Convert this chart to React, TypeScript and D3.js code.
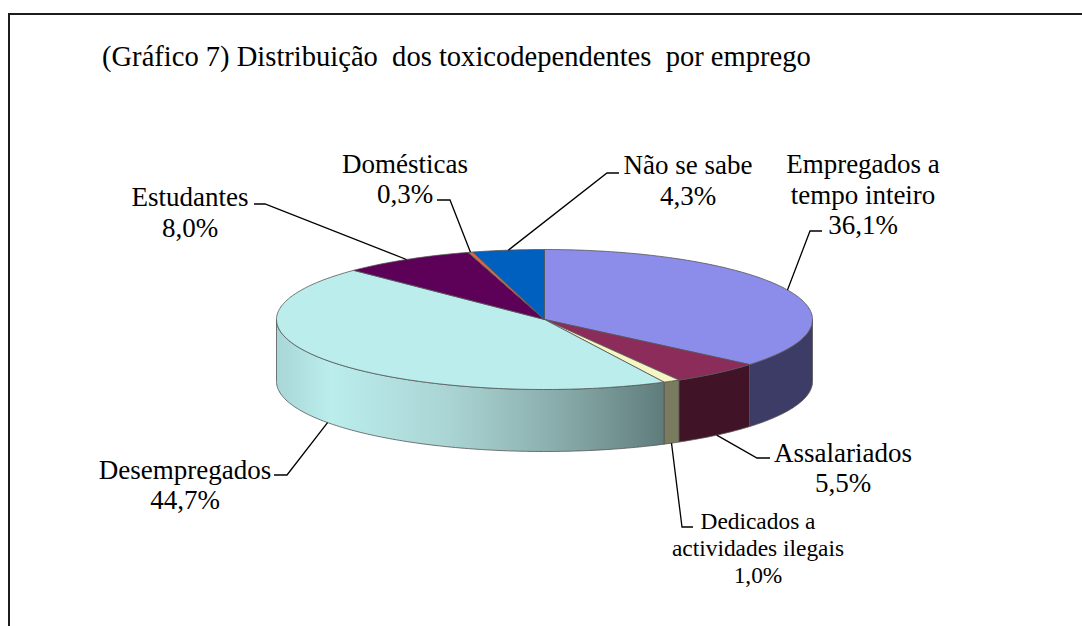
import React from "react";
import * as d3 from "d3";

const categories = ["Empregados a tempo inteiro", "Assalariados", "Dedicados a actividades ilegais", "Desempregados", "Estudantes", "Domésticas", "Não se sabe"];
const values = [36.1, 5.5, 1.0, 44.7, 8.0, 0.3, 4.3];
const topColors = ["#8c8ceb", "#8b2c5a", "#f6f6c4", "#bbeded", "#5c0058", "#d2694a", "#0060bf"];
const sideColors = ["#3c3c66", "#401426", "#7b7b5f", "url(#sideGrad)", "#2e002c", "#6a3525", "#003060"];
const labelLines = [
  ["Empregados a", "tempo inteiro", "36,1%"],
  ["Assalariados", "5,5%"],
  ["Dedicados a", "actividades ilegais", "1,0%"],
  ["Desempregados", "44,7%"],
  ["Estudantes", "8,0%"],
  ["Domésticas", "0,3%"],
  ["Não se sabe", "4,3%"],
];
const labelX = [863, 843, 758, 185, 190, 405, 688];
const labelY = [173, 462, 529, 479, 206, 173, 174];
const labelStep = [30.5, 30, 27, 30, 31, 30, 31];
const labelSize = [27, 27, 23.4, 27, 27, 27, 27];
const elbowA: [number, number][] = [[822, 231], [770, 458], [693, 527], [274, 475], [254, 204], [437, 200], [619, 173]];
const elbowB: [number, number][] = [[810, 231], [757, 458], [682, 527], [287, 475], [265, 204], [450, 200], [607, 173]];
const titleText = "(Gráfico 7) Distribuição  dos toxicodependentes  por emprego";

const W = 1082, H = 626;
const cx = 544.5, cy = 319.5, rx = 268, ry = 70, depth = 62;
const xS = d3.scaleLinear().domain([-1, 1]).range([cx - rx, cx + rx]);
const yS = d3.scaleLinear().domain([-1, 1]).range([cy - ry, cy + ry]);
const pt = (t: number): [number, number] => [xS(Math.sin(t)), yS(-Math.cos(t))];
const line = d3.line();
const sample = (a: number, b: number) => {
  const n = Math.max(2, Math.ceil(Math.abs(b - a) * 60));
  return d3.range(n + 1).map((i) => pt(a + ((b - a) * i) / n));
};
const arcs = d3.pie<number>().sort(null)(values);
const PI = Math.PI;

export default function App() {
  return (
    <svg width={W} height={H} viewBox={`0 0 ${W} ${H}`} style={{ position: "absolute", left: 0, top: 0, background: "#fff" }}>
      <defs>
        <linearGradient id="sideGrad" gradientUnits="userSpaceOnUse" x1={cx - rx} x2={664} y1={0} y2={0}>
          <stop offset="0" stopColor="#a9d6d6" />
          <stop offset="0.14" stopColor="#bbeded" />
          <stop offset="0.45" stopColor="#a9d4d3" />
          <stop offset="0.75" stopColor="#86a9a8" />
          <stop offset="1" stopColor="#5f7c7b" />
        </linearGradient>
      </defs>
      <path d="M9 626V14H1082" fill="none" stroke="#1c1c1c" strokeWidth={2} />
      <text x={102} y={66} fontFamily="Liberation Serif" fontSize={28.55} fill="#000" style={{ whiteSpace: "pre" }}>{titleText}</text>
      <g stroke="#555" strokeWidth={0.8} strokeLinejoin="round">
        {arcs.map((a, i) => {
          const s = Math.max(a.startAngle, PI / 2);
          const e = Math.min(a.endAngle, (3 * PI) / 2);
          if (e <= s) return null;
          const upper = sample(s, e);
          const lower = upper.map(([x, y]) => [x, y + depth] as [number, number]).reverse();
          return <path key={categories[i]} d={line([...upper, ...lower])! + "Z"} fill={sideColors[i]} />;
        })}
        {arcs.map((a, i) => (
          <path key={categories[i]} d={line([[cx, cy], ...sample(a.startAngle, a.endAngle)])! + "Z"} fill={topColors[i]} />
        ))}
      </g>
      <g fill="none" stroke="#000" strokeWidth={1.3}>
        {arcs.map((a, i) => {
          const mid = (a.startAngle + a.endAngle) / 2;
          const [x, y] = pt(mid);
          const anchor: [number, number] = [x, Math.cos(mid) < 0 ? y + depth : y];
          return <path key={categories[i]} d={line([elbowA[i], elbowB[i], anchor])!} />;
        })}
      </g>
      <g fontFamily="Liberation Serif" fill="#000" textAnchor="middle">
        {labelLines.map((lines, i) => (
          <text key={categories[i]} fontSize={labelSize[i]}>
            {lines.map((l, j) => (
              <tspan key={j} x={labelX[i]} y={labelY[i] + j * labelStep[i]}>{l}</tspan>
            ))}
          </text>
        ))}
      </g>
    </svg>
  );
}
